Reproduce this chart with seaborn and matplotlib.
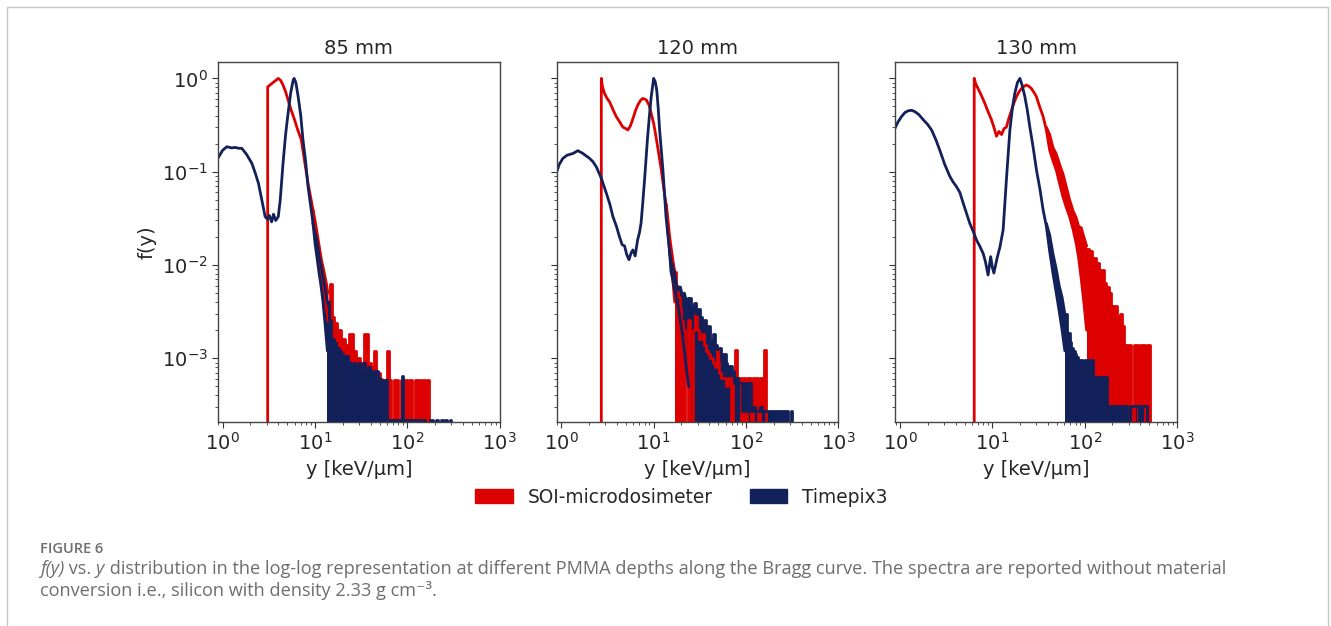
import numpy as np
import matplotlib
matplotlib.use("Agg")
import matplotlib.pyplot as plt
from matplotlib.patches import Patch, Rectangle
import seaborn as sns

sns.set_style("ticks")
plt.rcParams['font.family'] = 'DejaVu Sans'

RED = '#dc0000'
NAVY = '#13215a'
FLOOR = 1e-8   # empty bins
LW = 2.0

titles = ['85 mm', '120 mm', '130 mm']

# each spectrum = smooth part (y, f) + scatter band (y, upper, lower)
# + sparse histogram tail (bin edges, f; 0 = empty bin)

# ---------- 85 mm ----------
soi85_y = [3.07, 3.07, 3.3, 3.6, 4.0, 4.25, 4.5, 4.8, 5.1, 5.5, 6.0, 6.5, 7.1, 7.7,
           8.4, 9.0, 9.5]
soi85_f = [0, 0.81, 0.86, 0.92, 1.0, 0.95, 0.85, 0.72, 0.59, 0.46, 0.36, 0.28, 0.22, 0.13,
           0.075, 0.052, 0.039]
soi85_band_y = [9.5, 10.0, 10.6, 11.2, 11.8, 12.5, 13.2, 13.8]
soi85_band_hi = [0.039, 0.03, 0.021, 0.015, 0.011, 0.0085, 0.0065, 0.005]
soi85_band_lo = [0.039, 0.024, 0.016, 0.011, 0.0075, 0.0052, 0.0035, 0.0025]
soi85_tail_y = [13.8, 14.6, 15.4, 16.2, 17.5, 19.2, 21, 23.5, 25.5, 28, 31, 34, 37, 40,
                43, 46, 50, 53, 57, 60, 63, 67, 72, 76, 80, 86, 92, 98, 105, 112, 120, 128,
                136, 145, 155, 162, 170]
soi85_tail_f = [0.004, 6.3e-3, 2.8e-3, 2.4e-3, 2.0e-3, 1.6e-3, 1.4e-3, 1.8e-3, 1.2e-3,
                1.0e-3, 9e-4, 1.8e-3, 9e-4, 8e-4, 1.2e-3, 7e-4, 6e-4, 5.9e-4, 5.9e-4,
                1.2e-3, 5.9e-4, 0, 5.9e-4, 5.9e-4, 0, 5.9e-4, 5.9e-4, 0, 5.9e-4, 0,
                5.9e-4, 5.9e-4, 0, 5.9e-4, 0, 5.9e-4, 0]

tpx85_y = [0.89, 1.0, 1.11, 1.25, 1.37, 1.5, 1.61, 1.8, 2.07, 2.25, 2.44, 2.65, 2.88,
           3.05, 3.2, 3.39, 3.55, 3.75, 4.0, 4.2, 4.5, 4.8, 5.1, 5.45, 5.8, 5.94, 6.2,
           6.56, 7.0, 7.4, 7.9, 8.4, 9.0, 9.5]
tpx85_f = [0.14, 0.17, 0.185, 0.18, 0.182, 0.178, 0.178, 0.155, 0.123, 0.097, 0.075,
           0.05, 0.033, 0.031, 0.034, 0.029, 0.035, 0.03, 0.033, 0.05, 0.123, 0.25, 0.42,
           0.7, 0.96, 1.0, 0.9, 0.64, 0.4, 0.22, 0.13, 0.069, 0.042, 0.028]
tpx85_band_y = [9.5, 10.0, 10.5, 11.0, 11.6, 12.2, 12.9, 13.6]
tpx85_band_hi = [0.028, 0.022, 0.018, 0.013, 0.010, 0.0075, 0.0055, 0.004]
tpx85_band_lo = [0.028, 0.017, 0.012, 0.0085, 0.006, 0.004, 0.0022, 0.0012]
tpx85_tail_y = [13.6, 14.3, 14.8, 15.5, 16.2, 17.0, 18.0, 19.0, 20.0, 21.2, 22.6, 24,
                25.5, 27, 29, 31, 33, 35, 37, 39.5, 42, 45, 48, 51, 54, 57, 60, 64, 68, 72,
                77, 82, 87, 90, 93, 98, 104, 110, 118, 126, 135, 145, 155, 165, 175, 190,
                205, 215, 230, 245, 255, 270, 290, 300]
tpx85_tail_f = [0.004, 2.6e-3, 0, 1.6e-3, 1.45e-3, 1.3e-3, 1.2e-3, 1.1e-3, 9.6e-4, 1.05e-3,
                9.2e-4, 8.5e-4, 9.0e-4, 8.3e-4, 8.8e-4, 7.6e-4, 8.9e-4, 7.2e-4, 8.0e-4,
                7.4e-4, 6.6e-4, 7.4e-4, 6.2e-4, 5.9e-4, 2.2e-4, 5.9e-4, 2.2e-4, 2.2e-4,
                2.2e-4, 2.2e-4, 2.2e-4, 2.2e-4, 6.5e-4, 2.2e-4, 2.2e-4, 2.2e-4, 2.2e-4,
                2.2e-4, 2.2e-4, 2.2e-4, 2.2e-4, 2.2e-4, 0, 0, 2.2e-4, 0, 2.2e-4, 0,
                2.2e-4, 0, 2.2e-4, 0, 2.2e-4, 0]

# ---------- 120 mm ----------
soi120_y = [2.71, 2.71, 2.8, 2.94, 3.1, 3.33, 3.6, 3.93, 4.3, 4.64, 5.0, 5.26, 5.6, 5.96,
            6.35, 6.74, 7.2, 7.6, 8.3, 8.9, 9.4, 10.0, 10.6, 11.3, 12.1, 12.9, 13.7]
soi120_f = [0, 1.0, 0.8, 0.69, 0.62, 0.56, 0.47, 0.39, 0.34, 0.30, 0.29, 0.28, 0.31,
            0.37, 0.45, 0.52, 0.58, 0.61, 0.59, 0.52, 0.42, 0.33, 0.237, 0.16, 0.104,
            0.065, 0.042]
soi120_band_y = [13.7, 14.3, 14.9, 15.5, 16.2, 16.9]
soi120_band_hi = [0.045, 0.03, 0.02, 0.015, 0.011, 0.0085]
soi120_band_lo = [0.042, 0.022, 0.014, 0.0095, 0.0065, 0.004]
soi120_tail_y = [16.9, 17.6, 18.4, 19.2, 20, 21, 22, 23.5, 25, 26.5, 28, 29.5, 31, 33,
                 35, 37, 39, 41, 43.5, 46, 48.5, 51, 54, 57, 60, 64, 68, 72, 76, 80, 84,
                 88, 92, 97, 102, 108, 114, 120, 127, 134, 142, 150, 158, 165]
soi120_tail_f = [0.0085, 0.006, 0.0045, 3.5e-3, 2.5e-3, 2.0e-3, 0, 2.6e-3, 0, 2.0e-3,
                 3.0e-3, 2.0e-3, 1.6e-3, 1.8e-3, 1.4e-3, 1.2e-3, 1.1e-3, 1.0e-3, 9e-4,
                 8e-4, 1.24e-3, 7e-4, 6.1e-4, 6.1e-4, 5e-4, 6.1e-4, 0, 6.1e-4, 1.24e-3,
                 6.1e-4, 6.1e-4, 0, 6.1e-4, 0, 6.1e-4, 6.1e-4, 0, 6.1e-4, 6.1e-4, 0,
                 6.1e-4, 6.1e-4, 1.24e-3, 0]

tpx120_y = [0.88, 0.95, 1.04, 1.15, 1.34, 1.51, 1.71, 2.02, 2.2, 2.39, 2.71, 3.07, 3.35,
            3.62, 3.95, 4.27, 4.55, 4.84, 5.1, 5.4, 5.7, 5.96, 6.3, 6.7, 7.0, 7.3, 7.6,
            7.96, 8.6, 9.0, 9.4, 10.0, 10.4, 10.8, 11.2, 11.6, 12.6, 13.6, 14.8]
tpx120_f = [0.096, 0.12, 0.139, 0.15, 0.157, 0.168, 0.157, 0.139, 0.128, 0.113, 0.085,
            0.059, 0.045, 0.033, 0.026, 0.020, 0.0165, 0.016, 0.013, 0.0114, 0.0135,
            0.0145, 0.0125, 0.0186, 0.022, 0.028, 0.045, 0.081, 0.237, 0.4, 0.636, 1.0,
            0.92, 0.75, 0.48, 0.28, 0.104, 0.033, 0.0145]
tpx120_band_y = [14.8, 15.4, 16.1, 16.8, 17.5, 18.5, 19.5, 20.5, 21.5, 22.5, 24]
tpx120_band_hi = [0.0145, 0.011, 0.0095, 0.0082, 6.4e-3, 5.4e-3, 5.8e-3, 4.6e-3, 5.0e-3,
                  4.2e-3, 4.4e-3]
tpx120_band_lo = [0.0145, 0.0085, 0.007, 0.0055, 0.0045, 0.0035, 0.0025, 0.0018, 0.0012,
                  8e-4, 5e-4]
tpx120_tail_y = [24, 25.5, 27, 28.5, 30, 31.5, 33, 35, 37, 39, 41, 43.5, 46, 48.5, 51,
                 54, 57, 60, 63, 66, 70, 74, 78, 82, 86, 90, 95, 100, 106, 112, 118, 125,
                 132, 140, 150, 160, 170, 180, 195, 210, 230, 250, 270, 285, 305, 315, 325]
tpx120_tail_f = [4.4e-3, 3.6e-3, 3.9e-3, 3.0e-3, 3.4e-3, 2.8e-3, 2.5e-3, 2.6e-3, 2.1e-3,
                 2.2e-3, 1.57e-3, 1.8e-3, 1.4e-3, 1.25e-3, 1.3e-3, 9.6e-4, 1.1e-3, 8.8e-4,
                 7.4e-4, 8.3e-4, 7.4e-4, 5.5e-4, 6.1e-4, 5.4e-4, 5.4e-4, 2.7e-4, 5.4e-4,
                 2.7e-4, 5.4e-4, 2.7e-4, 3.0e-4, 2.7e-4, 2.7e-4, 3.0e-4, 2.7e-4, 2.7e-4,
                 2.7e-4, 2.7e-4, 2.7e-4, 2.7e-4, 2.7e-4, 2.7e-4, 2.7e-4, 0, 2.7e-4, 0, 0]

# ---------- 130 mm ----------
soi130_y = [6.37, 6.37, 6.6, 7.0, 7.6, 8.3, 9.0, 9.8, 10.4, 11.1, 11.8, 12.6, 13.4, 14.2,
            15.2, 16.2, 17.2, 18.3, 19.5, 20.7, 22, 23.4, 25, 26.5, 28.2, 30, 32.5, 35.5,
            38.5]
soi130_f = [0, 1.0, 0.88, 0.78, 0.66, 0.54, 0.44, 0.36, 0.3, 0.24, 0.27, 0.25, 0.29,
            0.30, 0.38, 0.46, 0.55, 0.64, 0.72, 0.78, 0.82, 0.85, 0.82, 0.78, 0.71, 0.64,
            0.5, 0.39, 0.28]
soi130_band_y = [38.5, 41.8, 45.5, 49.3, 53.5, 58.2, 63, 68.7, 75, 81, 86, 92, 98, 105]
soi130_band_hi = [0.30, 0.25, 0.18, 0.155, 0.12, 0.095, 0.07, 0.05, 0.038, 0.032, 0.026,
                  0.025, 0.02, 0.016]
soi130_band_lo = [0.28, 0.17, 0.13, 0.104, 0.075, 0.054, 0.042, 0.033, 0.024, 0.017,
                  0.012, 0.007, 0.004, 0.002]
soi130_tail_y = [105, 112, 120, 127, 134, 142, 150, 160, 172, 182, 195, 210, 225, 240,
                 255, 270, 285, 300, 320, 340, 360, 380, 400, 420, 445, 470, 490, 510]
soi130_tail_f = [0.015, 0.014, 0.012, 0.012, 0.0104, 0.0088, 0.0088, 0.0064, 0.0058,
                 0.005, 0.0036, 0.0036, 0.0028, 0.003, 0.0022, 0.0014, 0.0014, 0.0014, 0,
                 0.0014, 0.0014, 0, 0.0014, 0.0014, 0, 0.0014, 0.0014, 0]

tpx130_y = [0.88, 0.95, 1.04, 1.13, 1.23, 1.34, 1.45, 1.6, 1.79, 2.0, 2.2, 2.45, 2.7,
            3.05, 3.47, 3.75, 4.1, 4.45, 4.84, 5.25, 5.7, 6.2, 6.75, 7.3, 7.96, 8.4, 9.0,
            9.6, 10.0, 10.4, 11.3, 12.1, 13.1, 14.2, 15.5, 16.5, 17.5, 18.7, 19.9, 21.0,
            22.5, 24, 25.5, 27.5, 30.1, 32.8, 35.5, 38.5]
tpx130_f = [0.29, 0.34, 0.39, 0.43, 0.45, 0.455, 0.44, 0.41, 0.36, 0.32, 0.28, 0.22,
            0.17, 0.12, 0.089, 0.078, 0.069, 0.06, 0.046, 0.036, 0.028, 0.023, 0.0185,
            0.016, 0.0133, 0.011, 0.0078, 0.0123, 0.0095, 0.0082, 0.012, 0.0156, 0.0238,
            0.081, 0.28, 0.48, 0.69, 0.9, 1.0, 0.85, 0.64, 0.45, 0.30, 0.19, 0.104, 0.065,
            0.039, 0.026]
tpx130_band_y = [38.5, 41.8, 45.5, 49.3, 53, 57, 61]
tpx130_band_hi = [0.028, 0.021, 0.013, 0.009, 0.006, 0.0045, 0.003]
tpx130_band_lo = [0.026, 0.014, 0.008, 0.005, 0.0032, 0.002, 0.0012]
tpx130_tail_y = [61, 64, 66, 69, 72, 75, 78, 81, 85, 90, 95, 100, 106, 112, 118, 124, 130,
                 137, 145, 152, 160, 168, 176, 185, 200, 215, 230, 250, 270, 290, 310, 330,
                 350, 370, 390, 410, 430, 450, 470]
tpx130_tail_f = [0.003, 0, 1.86e-3, 1.5e-3, 1.3e-3, 1.2e-3, 1.1e-3, 1.03e-3, 9.6e-4,
                 9.6e-4, 8e-4, 9.6e-4, 9.6e-4, 7.5e-4, 9.6e-4, 6.3e-4, 6.3e-4, 6.3e-4,
                 6.3e-4, 6.3e-4, 6.3e-4, 6.3e-4, 3.1e-4, 3.1e-4, 3.1e-4, 3.1e-4, 3.1e-4,
                 3.1e-4, 3.1e-4, 0, 3.1e-4, 3.1e-4, 3.1e-4, 3.1e-4, 0, 3.1e-4, 3.1e-4,
                 3.1e-4, 0]

panels = [
    ((soi85_y, soi85_f, soi85_band_y, soi85_band_hi, soi85_band_lo, soi85_tail_y, soi85_tail_f),
     (tpx85_y, tpx85_f, tpx85_band_y, tpx85_band_hi, tpx85_band_lo, tpx85_tail_y, tpx85_tail_f)),
    ((soi120_y, soi120_f, soi120_band_y, soi120_band_hi, soi120_band_lo, soi120_tail_y, soi120_tail_f),
     (tpx120_y, tpx120_f, tpx120_band_y, tpx120_band_hi, tpx120_band_lo, tpx120_tail_y, tpx120_tail_f)),
    ((soi130_y, soi130_f, soi130_band_y, soi130_band_hi, soi130_band_lo, soi130_tail_y, soi130_tail_f),
     (tpx130_y, tpx130_f, tpx130_band_y, tpx130_band_hi, tpx130_band_lo, tpx130_tail_y, tpx130_tail_f)),
]


def nz(vals):
    v = np.asarray(vals, dtype=float)
    return np.where(v > 0, v, FLOOR)


def draw_series(ax, series, color):
    y, f, by, bhi, blo, ty, tf = series
    sns.lineplot(x=y, y=nz(f), ax=ax, color=color, linewidth=LW,
                 estimator=None, sort=False)
    # bin-to-bin scatter band
    ax.fill_between(by, blo, bhi, color=color, linewidth=0)
    ax.plot(by, bhi, color=color, linewidth=LW)
    ax.plot(by, blo, color=color, linewidth=LW)
    # sparse tail, every bin drawn down to the floor
    ax.fill_between(ty, FLOOR, nz(tf), step='post', color=color, linewidth=0)
    ax.step(ty, nz(tf), where='post', color=color, linewidth=LW)


fig, axes = plt.subplots(1, 3, figsize=(13.31, 6.26), dpi=100, sharey=True)
fig.subplots_adjust(left=0.1638, right=0.8843, bottom=0.326, top=0.901, wspace=0.202)

for ax, title, (soi, tpx) in zip(axes, titles, panels):
    ax.set_xscale('log')
    ax.set_yscale('log')
    draw_series(ax, soi, RED)
    draw_series(ax, tpx, NAVY)
    ax.set_xlim(0.89, 1000)
    ax.set_ylim(2.08e-4, 1.5)
    ax.set_title(title, fontsize=14)
    ax.set_xlabel('y [keV/µm]', fontsize=14)
    ax.tick_params(axis='both', which='major', labelsize=14, length=4, color='#333333')
    ax.tick_params(axis='both', which='minor', length=2.5, color='#333333')
    for s in ax.spines.values():
        s.set_color('#444444')
        s.set_linewidth(1.0)
axes[0].set_ylabel('f(y)', fontsize=14)

handles = [Patch(facecolor=RED, edgecolor=RED, label='SOI-microdosimeter'),
           Patch(facecolor=NAVY, edgecolor=NAVY, label='Timepix3')]
fig.legend(handles=handles, loc='center', bbox_to_anchor=(0.512, 1 - 497 / 626),
           ncol=2, frameon=False, fontsize=13.4)

# outer frame of the figure panel
fig.add_artist(Rectangle((7 / 1331, -0.05), 1321 / 1331, 1.05 - 7 / 626,
                         transform=fig.transFigure, fill=False,
                         edgecolor='#c4c4c4', linewidth=1.0))

# caption
CAP = '#6d6d6d'
cap_font = ['Open Sans', 'DejaVu Sans']
renderer = fig.canvas.get_renderer()


def text_run(x_px, y_px, pieces, size):
    x = x_px
    for s, style in pieces:
        t = fig.text(x / 1331, 1 - y_px / 626, s, fontsize=size, color=CAP,
                     family=cap_font, style=style, va='center', ha='left')
        x += t.get_window_extent(renderer).width


fig.text(40 / 1331, 1 - 549 / 626, 'FIGURE 6', fontsize=10.5, color=CAP,
         family=cap_font, weight='semibold', va='center', ha='left')
text_run(40, 569, [('f(y)', 'italic'), (' vs. ', 'normal'), ('y', 'italic'),
                   (' distribution in the log-log representation at different PMMA depths '
                    'along the Bragg curve. The spectra are reported without material', 'normal')],
         13.1)
text_run(40, 591, [('conversion i.e., silicon with density 2.33 g cm⁻³.', 'normal')], 13.1)

fig.savefig('out.png', dpi=100)
